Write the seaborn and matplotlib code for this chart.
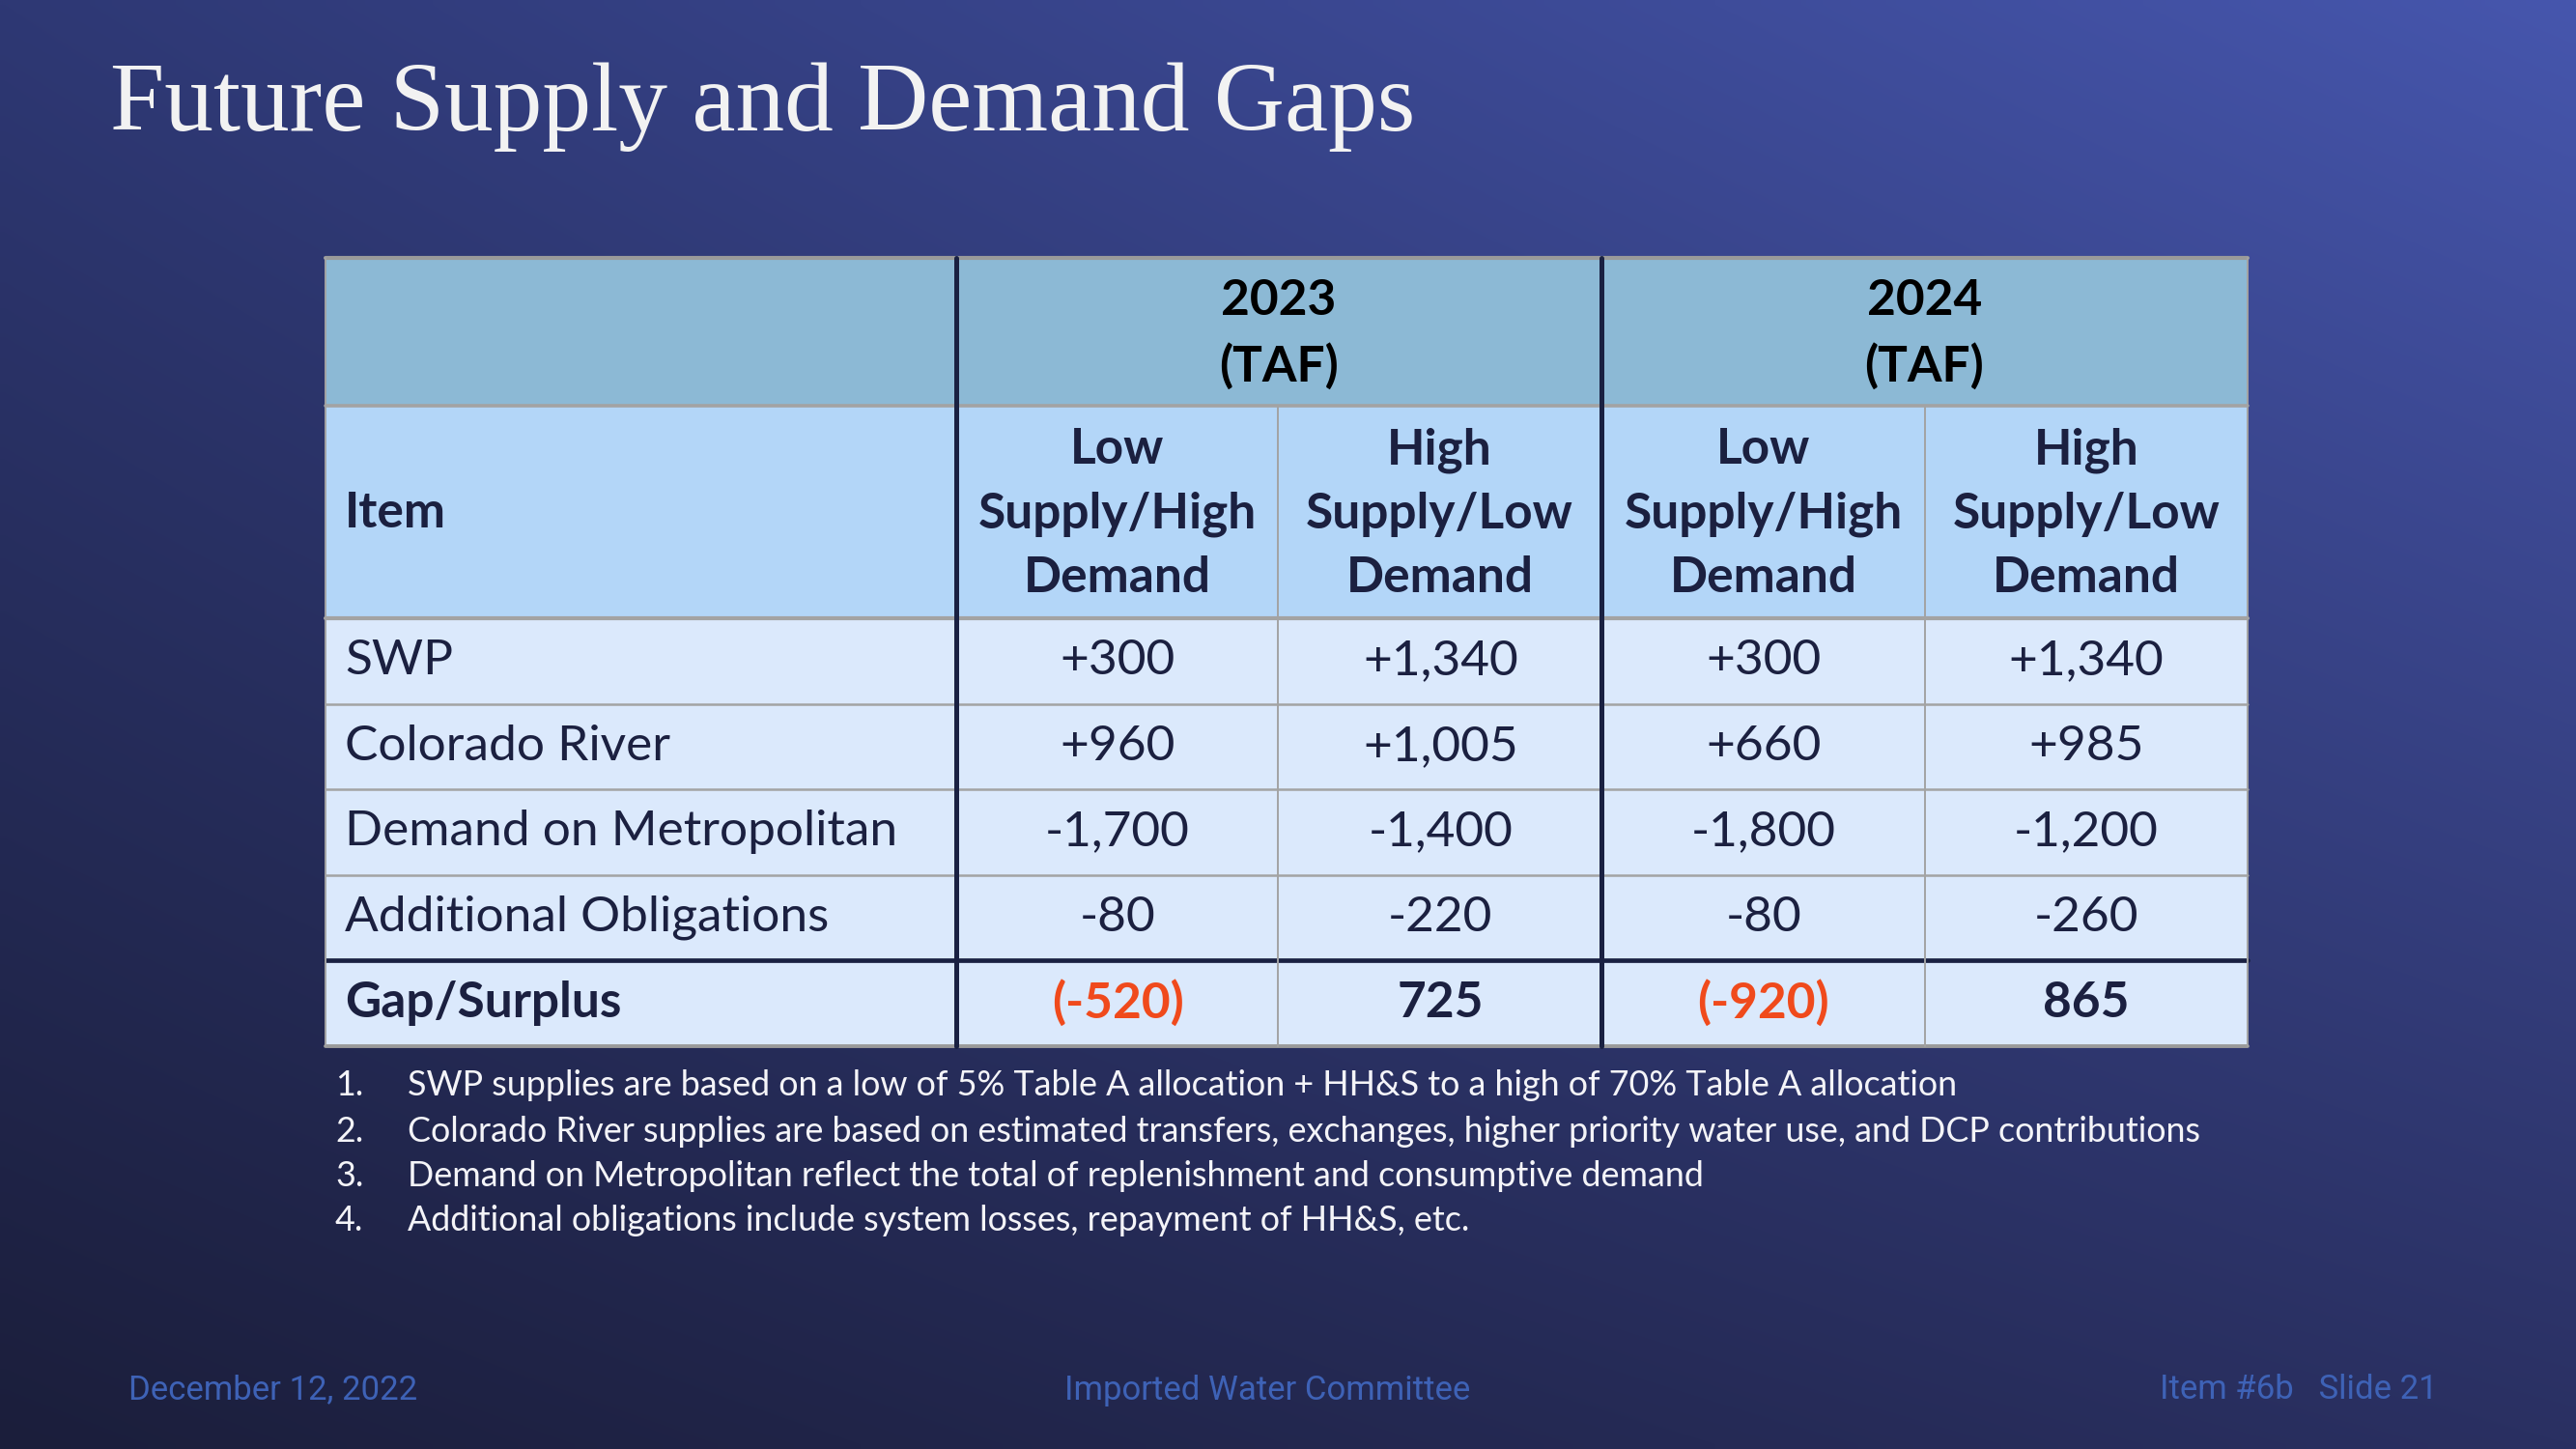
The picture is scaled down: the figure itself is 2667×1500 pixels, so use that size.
import numpy as np
import pandas as pd
import seaborn as sns
import matplotlib.pyplot as plt
from matplotlib.colors import ListedColormap
from matplotlib.patches import Rectangle

# ---------------- data ----------------
title = "Future Supply and Demand Gaps"
items = ["SWP", "Colorado River", "Demand on Metropolitan", "Additional Obligations", "Gap/Surplus"]
years = ["2023\n(TAF)", "2024\n(TAF)"]
scenarios = ["Low\nSupply/High\nDemand", "High\nSupply/Low\nDemand",
             "Low\nSupply/High\nDemand", "High\nSupply/Low\nDemand"]
low_2023 = [300, 960, -1700, -80, -520]
high_2023 = [1340, 1005, -1400, -220, 725]
low_2024 = [300, 660, -1800, -80, -920]
high_2024 = [1340, 985, -1200, -260, 865]
item_header = "Item"
notes = [
    "SWP supplies are based on a low of 5% Table A allocation + HH&S to a high of 70% Table A allocation",
    "Colorado River supplies are based on estimated transfers, exchanges, higher priority water use, and DCP contributions",
    "Demand on Metropolitan reflect the total of replenishment and consumptive demand",
    "Additional obligations include system losses, repayment of HH&S, etc.",
]
footer_left = "December 12, 2022"
footer_center = "Imported Water Committee"
footer_right = "Item #6b   Slide 21"

# ---------------- setup ----------------
sns.set_theme(style="white")
plt.rcParams['font.family'] = ['Lato', 'DejaVu Sans']

W, H = 2667, 1500
fig = plt.figure(figsize=(W / 100, H / 100), dpi=100)

# background gradient
ax_bg = fig.add_axes([0, 0, 1, 1], zorder=0)
tl = np.array([0x2e, 0x38, 0x74]) / 255
tr = np.array([0x46, 0x56, 0xad]) / 255
bl = np.array([0x1b, 0x1e, 0x3b]) / 255
br = np.array([0x2a, 0x30, 0x62]) / 255
ny, nx = 150, 267
yy, xx = np.mgrid[0:1:ny * 1j, 0:1:nx * 1j]
grad = (tl[None, None, :] * ((1 - xx) * (1 - yy))[..., None]
        + tr[None, None, :] * (xx * (1 - yy))[..., None]
        + bl[None, None, :] * ((1 - xx) * yy)[..., None]
        + br[None, None, :] * (xx * yy)[..., None])
ax_bg.imshow(grad, aspect='auto', extent=[0, W, H, 0], interpolation='bilinear')
ax_bg.set_xlim(0, W)
ax_bg.set_ylim(H, 0)
ax_bg.axis('off')

# table geometry (pixels)
x_edges = [337, 990, 1323, 1658, 1993, 2327]
y_top, y_h1, y_h2, y_bot = 267, 420, 640, 1083

def fig_rect(x0, y0, x1, y1):
    return [x0 / W, 1 - y1 / H, (x1 - x0) / W, (y1 - y0) / H]

body_color = '#dbe9fc'
text_dark = '#1b2040'
body_fs = 37

def fmt(v, last):
    if last:
        return f"({v:,})" if v < 0 else f"{v:,}"
    return f"+{v:,}" if v > 0 else f"{v:,}"

values = pd.DataFrame({"a": low_2023, "b": high_2023, "c": low_2024, "d": high_2024}, index=items)
labels = np.array([[fmt(v, i == len(items) - 1) for v in row] for i, row in enumerate(values.values)])

# body numeric cells
ax_body = fig.add_axes(fig_rect(x_edges[1], y_h2, x_edges[-1], y_bot), zorder=1)
sns.heatmap(values, ax=ax_body, cmap=ListedColormap([body_color]), cbar=False,
            annot=labels, fmt='', annot_kws=dict(fontsize=body_fs, color=text_dark),
            xticklabels=False, yticklabels=False)
ncol = values.shape[1]
for k, t in enumerate(ax_body.texts):
    r, c = divmod(k, ncol)
    t.set_color(text_dark)
    t.set_family(['Lato', 'DejaVu Sans'])
    if r == len(items) - 1:
        t.set_fontweight('bold')
        if values.values[r, c] < 0:
            t.set_color('#f04a1c')
ax_body.set_xlabel('')
ax_body.set_ylabel('')

# item column
item_df = pd.DataFrame({"item": np.arange(len(items))}, index=items)
ax_item = fig.add_axes(fig_rect(x_edges[0], y_h2, x_edges[1], y_bot), zorder=1)
sns.heatmap(item_df, ax=ax_item, cmap=ListedColormap([body_color]), cbar=False,
            annot=np.array(items)[:, None], fmt='', annot_kws=dict(fontsize=body_fs, color=text_dark),
            xticklabels=False, yticklabels=False)
for k, t in enumerate(ax_item.texts):
    t.set_ha('left')
    t.set_x(20 / (x_edges[1] - x_edges[0]))
    t.set_color(text_dark)
    t.set_family(['Lato', 'DejaVu Sans'])
    if k == len(items) - 1:
        t.set_fontweight('bold')
ax_item.set_xlabel('')
ax_item.set_ylabel('')

# overlay for headers, grid lines and text
ov = fig.add_axes([0, 0, 1, 1], zorder=2)
ov.set_xlim(0, W)
ov.set_ylim(H, 0)
ov.axis('off')
ov.patch.set_alpha(0)

ov.add_patch(Rectangle((x_edges[0], y_top), x_edges[-1] - x_edges[0], y_h1 - y_top,
                       facecolor='#8cb9d5', edgecolor='none'))
ov.add_patch(Rectangle((x_edges[0], y_h1), x_edges[-1] - x_edges[0], y_h2 - y_h1,
                       facecolor='#b3d6f8', edgecolor='none'))

row_edges = np.linspace(y_h2, y_bot, len(items) + 1)
gray = '#a3a3a3'
navy = '#1a2142'
# horizontal lines
ov.plot([x_edges[0], x_edges[-1]], [y_top, y_top], color='#9a9a9a', lw=3)
ov.plot([x_edges[0], x_edges[-1]], [y_h1, y_h1], color=gray, lw=2.6)
ov.plot([x_edges[0], x_edges[-1]], [y_h2, y_h2], color=gray, lw=3)
for ye in row_edges[1:-2]:
    ov.plot([x_edges[0], x_edges[-1]], [ye, ye], color=gray, lw=1.8)
ov.plot([x_edges[0], x_edges[-1]], [row_edges[-2], row_edges[-2]], color=navy, lw=3.4)
ov.plot([x_edges[0], x_edges[-1]], [y_bot, y_bot], color='#9a9a9a', lw=2.8)
# vertical lines
for xe in (x_edges[2], x_edges[4]):
    ov.plot([xe, xe], [y_h1, y_bot], color=gray, lw=1.4)
for xe in (x_edges[1], x_edges[3]):
    ov.plot([xe, xe], [y_top, y_bot], color=navy, lw=3.6)
ov.plot([x_edges[0], x_edges[0]], [y_top, y_bot], color=gray, lw=1.4)
ov.plot([x_edges[-1], x_edges[-1]], [y_top, y_bot], color=gray, lw=1.4)

# header text
for j, yr in enumerate(years):
    xc = (x_edges[1 + 2 * j] + x_edges[3 + 2 * j]) / 2
    ov.text(xc, (y_top + y_h1) / 2 + 2, yr, ha='center', va='center', fontsize=body_fs,
            fontweight='bold', color='black', linespacing=1.5)
for j, sc in enumerate(scenarios):
    xc = (x_edges[1 + j] + x_edges[2 + j]) / 2
    ov.text(xc, (y_h1 + y_h2) / 2 + 2, sc, ha='center', va='center', fontsize=body_fs,
            fontweight='bold', color=text_dark, linespacing=1.5)
ov.text(x_edges[0] + 20, (y_h1 + y_h2) / 2 + 2, item_header, ha='left', va='center',
        fontsize=body_fs, fontweight='bold', color=text_dark)

# notes
note_y = [1124, 1171, 1217, 1263]
for i, (n, yv) in enumerate(zip(notes, note_y)):
    ov.text(347, yv, f"{i + 1}.", ha='left', va='center', fontsize=25.8, color='#f4f4f8')
    ov.text(422, yv, n, ha='left', va='center', fontsize=25.8, color='#f4f4f8')

# title
ov.text(114, 135, title, ha='left', va='baseline', fontsize=73, color='#f2f2f2',
        family=['Liberation Serif', 'DejaVu Serif'])

# footer
fc = '#3e62b6'
ov.text(133, 1439, footer_left, ha='left', va='center', fontsize=25, color=fc, family=['Roboto', 'DejaVu Sans'])
ov.text(1312, 1439, footer_center, ha='center', va='center', fontsize=25, color=fc, family=['Roboto', 'DejaVu Sans'])
ov.text(2524, 1439, footer_right, ha='right', va='center', fontsize=25, color=fc, family=['Roboto', 'DejaVu Sans'])

fig.savefig('out.png', dpi=100)
